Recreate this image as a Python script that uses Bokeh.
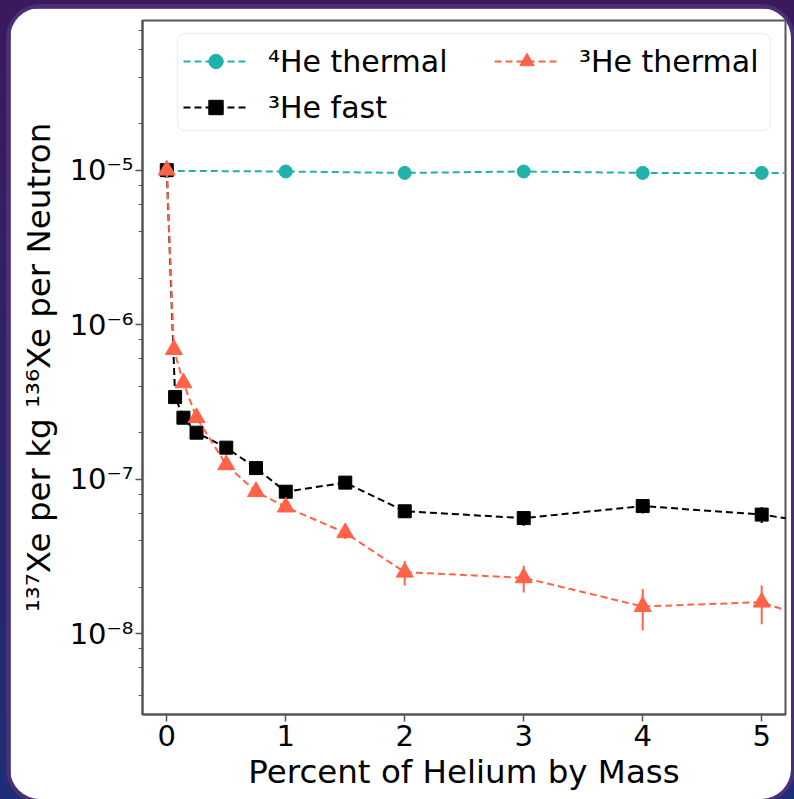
from bokeh.plotting import figure
from bokeh.layouts import column
from bokeh.models import (Range1d, LogTicker, FixedTicker, CustomJSTickFormatter,
                          Legend, LegendItem, BoxAnnotation, ColumnDataSource)
from bokeh.embed import file_html
from bokeh.resources import INLINE

# ---------------- data ----------------
x_he4_thermal = [0, 1, 2, 3, 4, 5, 6]
y_he4_thermal = [9.9e-6, 9.8e-6, 9.6e-6, 9.8e-6, 9.6e-6, 9.6e-6, 9.6e-6]
e_he4_thermal = [2e-7, 2e-7, 2e-7, 2e-7, 2e-7, 2e-7, 2e-7]

x_he3_fast = [0, 0.07, 0.14, 0.25, 0.5, 0.75, 1, 1.5, 2, 3, 4, 5, 6]
y_he3_fast = [1.0e-5, 3.4e-7, 2.5e-7, 2.0e-7, 1.6e-7, 1.18e-7, 8.3e-8, 9.5e-8,
              6.2e-8, 5.6e-8, 6.7e-8, 5.9e-8, 4.5e-8]
e_he3_fast = [2e-7, 2e-8, 1.5e-8, 1.2e-8, 1.0e-8, 8e-9, 6e-9, 7e-9,
              6e-9, 6e-9, 7e-9, 7e-9, 6e-9]

x_he3_thermal = [0, 0.06, 0.14, 0.25, 0.5, 0.75, 1, 1.5, 2, 3, 4, 5, 6]
y_he3_thermal = [1.0e-5, 6.9e-7, 4.2e-7, 2.5e-7, 1.24e-7, 8.3e-8, 6.6e-8, 4.5e-8,
                 2.5e-8, 2.3e-8, 1.5e-8, 1.6e-8, 8.8e-9]
e_he3_thermal = [2e-7, 3e-8, 2e-8, 1.2e-8, 8e-9, 5e-9, 4e-9, 4e-9,
                 4.5e-9, 4.5e-9, 4.5e-9, 4.5e-9, 3e-9]

x_ticks = [0, 1, 2, 3, 4, 5]
labels = ["\u2074He thermal", "\u00b3He fast", "\u00b3He thermal"]
x_label = "Percent of Helium by Mass"
y_label = "\u00b9\u00b3\u2077Xe per kg \u00b9\u00b3\u2076Xe per Neutron"

TEAL = "#20b2aa"
TOMATO = "#ff6347"
BLACK = "#000000"
FONT = "DejaVu Sans"

p = figure(width=781, height=791, output_backend="svg", toolbar_location=None,
           y_axis_type="log",
           x_range=Range1d(-0.204, 5.2), y_range=Range1d(3.0e-9, 9.3e-5),
           min_border_left=132, min_border_right=6, min_border_top=12,
           min_border_bottom=85,
           background_fill_color="white", border_fill_color="white",
           styles={"border-radius": "30px", "overflow": "hidden",
                   "box-shadow": "0 0 0 4px #4b2d78"})

p.grid.visible = False
p.outline_line_color = "#555555"
p.outline_line_width = 2

def series(xs, ys, es, color, marker, size):
    src = ColumnDataSource(dict(x=xs, y=ys,
                                lo=[y - e for y, e in zip(ys, es)],
                                hi=[y + e for y, e in zip(ys, es)]))
    p.segment(x0="x", y0="lo", x1="x", y1="hi", source=src,
              line_color=color, line_width=2)
    ln = p.line("x", "y", source=src, line_color=color, line_width=2,
                line_dash="7 4")
    sc = p.scatter("x", "y", source=src, marker=marker, size=size,
                   fill_color=color, line_color=color)
    return [ln, sc]

r_he4 = series(x_he4_thermal, y_he4_thermal, e_he4_thermal, TEAL, "circle", 13)
r_fast = series(x_he3_fast, y_he3_fast, e_he3_fast, BLACK, "square", 13)
r_he3 = series(x_he3_thermal, y_he3_thermal, e_he3_thermal, TOMATO, "triangle", 17)

# axes
p.xaxis.ticker = FixedTicker(ticks=x_ticks)
p.yaxis.ticker = LogTicker()
p.yaxis.formatter = CustomJSTickFormatter(code="""
const sup = {"0":"\u2070","1":"\u00b9","2":"\u00b2","3":"\u00b3","4":"\u2074",
             "5":"\u2075","6":"\u2076","7":"\u2077","8":"\u2078","9":"\u2079","-":"\u207b"};
const e = Math.round(Math.log10(tick));
return "10" + String(e).split("").map(c => sup[c]).join("");
""")
for ax in (p.xaxis[0], p.yaxis[0]):
    ax.axis_line_color = "#555555"
    ax.axis_line_width = 2
    ax.major_tick_line_color = "#555555"
    ax.minor_tick_line_color = "#555555"
    ax.major_tick_line_width = 1.5
    ax.minor_tick_line_width = 1.2
    ax.major_tick_in = 0
    ax.major_tick_out = 7
    ax.minor_tick_in = 0
    ax.minor_tick_out = 4
    ax.major_label_text_font = FONT
    ax.major_label_text_font_size = "29px"
    ax.major_label_text_color = "black"
    ax.axis_label_text_font = FONT
    ax.axis_label_text_font_style = "normal"
    ax.axis_label_text_color = "black"
p.xaxis.axis_label = x_label
p.yaxis.axis_label = y_label
p.xaxis.axis_label_text_font_size = "32.5px"
p.yaxis.axis_label_text_font_size = "32.5px"
p.xaxis.major_label_standoff = 3
p.xaxis.axis_label_standoff = 4
p.yaxis.major_label_standoff = 2
p.yaxis.axis_label_standoff = 9

# legend background box
lbox = BoxAnnotation(left=167, right=760, top=25, bottom=122,
                     left_units="canvas", right_units="canvas",
                     top_units="canvas", bottom_units="canvas",
                     fill_color="white", fill_alpha=0.8, line_color="#cccccc",
                     line_width=1.5, border_radius=7, level="annotation")
p.add_layout(lbox)

def mk_legend(items, loc):
    lg = Legend(items=items, location=loc, border_line_alpha=0,
                background_fill_alpha=0, label_text_font=FONT,
                label_text_font_size="30px", label_text_color="black",
                glyph_width=65, glyph_height=36,
                label_height=36, label_standoff=20, spacing=10, padding=8,
                margin=0)
    p.add_layout(lg)

mk_legend([LegendItem(label=labels[0], renderers=r_he4),
           LegendItem(label=labels[1], renderers=r_fast)], (33, 581))
mk_legend([LegendItem(label=labels[2], renderers=r_he3)], (344, 627))

page = column(p, width=794, height=799,
              styles={"background": "linear-gradient(180deg, #3a1a5c 0%, #2b2365 50%, #1d2e76 100%)",
                      "padding": "8px 0px 0px 10px", "box-sizing": "border-box"})

open("out.html", "w").write(file_html(page, INLINE))
